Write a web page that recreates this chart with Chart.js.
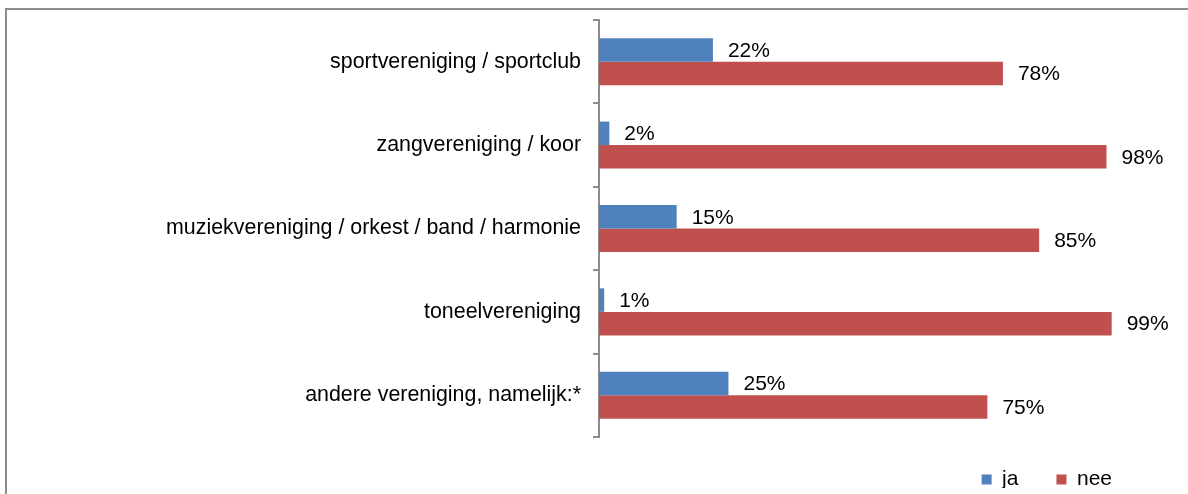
<!DOCTYPE html>
<html>
<head>
<meta charset="utf-8">
<script src="https://cdn.jsdelivr.net/npm/chart.js@4/dist/chart.umd.min.js"></script>
<style>
  html, body { margin: 0; padding: 0; background: #fff; overflow: hidden; }
  #frame {
    position: absolute; left: 5px; top: 8px; width: 2000px; height: 2000px;
    border-left: 2px solid #8c8c8c; border-top: 2px solid #8c8c8c;
  }
  #wrap { position: absolute; left: 0; top: 0; width: 1188px; height: 494px; }
</style>
</head>
<body>
<div id="frame"></div>
<div id="wrap"><canvas id="myBarChart"></canvas></div>
<script>
// chart values
const categories = [
  "sportvereniging / sportclub",
  "zangvereniging / koor",
  "muziekvereniging / orkest / band / harmonie",
  "toneelvereniging",
  "andere vereniging, namelijk:*",
];
const jaValues = [22, 2, 15, 1, 25];
const neeValues = [78, 98, 85, 99, 75];

Chart.defaults.font.family = "Arial, 'Liberation Sans', sans-serif";
Chart.defaults.color = "#000";

// draws the percentage next to every bar
const valueLabels = {
  id: "valueLabels",
  afterDatasetsDraw(chart) {
    const ctx = chart.ctx;
    ctx.save();
    ctx.font = "21px Arial, 'Liberation Sans', sans-serif";
    ctx.fillStyle = "#000";
    ctx.textAlign = "left";
    ctx.textBaseline = "middle";
    chart.data.datasets.forEach((ds, i) => {
      chart.getDatasetMeta(i).data.forEach((bar, j) => {
        ctx.fillText(ds.data[j] + "%", bar.x + 15, bar.y + 1);
      });
    });
    ctx.restore();
  },
};

// legend sits a bit higher than the plot bottom in the original
const legendLift = {
  id: "legendLift",
  afterLayout(chart) {
    chart.legend.top -= 6;
    chart.legend.bottom -= 6;
  },
};

const ctx = document.getElementById("myBarChart").getContext("2d");

const myBarChart = new Chart(ctx, {
  type: "bar",
  data: {
    labels: categories,
    datasets: [
      { label: "ja", data: jaValues, backgroundColor: "#4F81BD" },
      { label: "nee", data: neeValues, backgroundColor: "#C0504D" },
    ],
  },
  options: {
    indexAxis: "y",
    responsive: true,
    maintainAspectRatio: false,
    animation: false,
    categoryPercentage: 0.564,
    barPercentage: 1,
    layout: { padding: { top: 20, right: 38, left: 0, bottom: 0 } },
    scales: {
      x: { display: false, min: 0, max: 106.4 },
      y: {
        afterFit(scale) {
          scale.width = 599;
          scale.paddingTop = 0;
          scale.paddingBottom = 0;
        },
        border: { color: "#8c8c8c", width: 2 },
        grid: {
          offset: true,
          drawOnChartArea: false,
          drawTicks: true,
          tickLength: 6,
          color: "#8c8c8c",
          lineWidth: 2,
        },
        ticks: { font: { size: 21.4 }, padding: 12, color: "#000" },
      },
    },
    plugins: {
      legend: {
        position: "bottom",
        align: "end",
        maxHeight: 57,
        labels: {
          boxWidth: 10,
          boxHeight: 10,
          padding: 38,
          font: { size: 21 },
          color: "#000",
        },
      },
      tooltip: { enabled: false },
    },
  },
  plugins: [valueLabels, legendLift],
});
</script>
</body>
</html>
